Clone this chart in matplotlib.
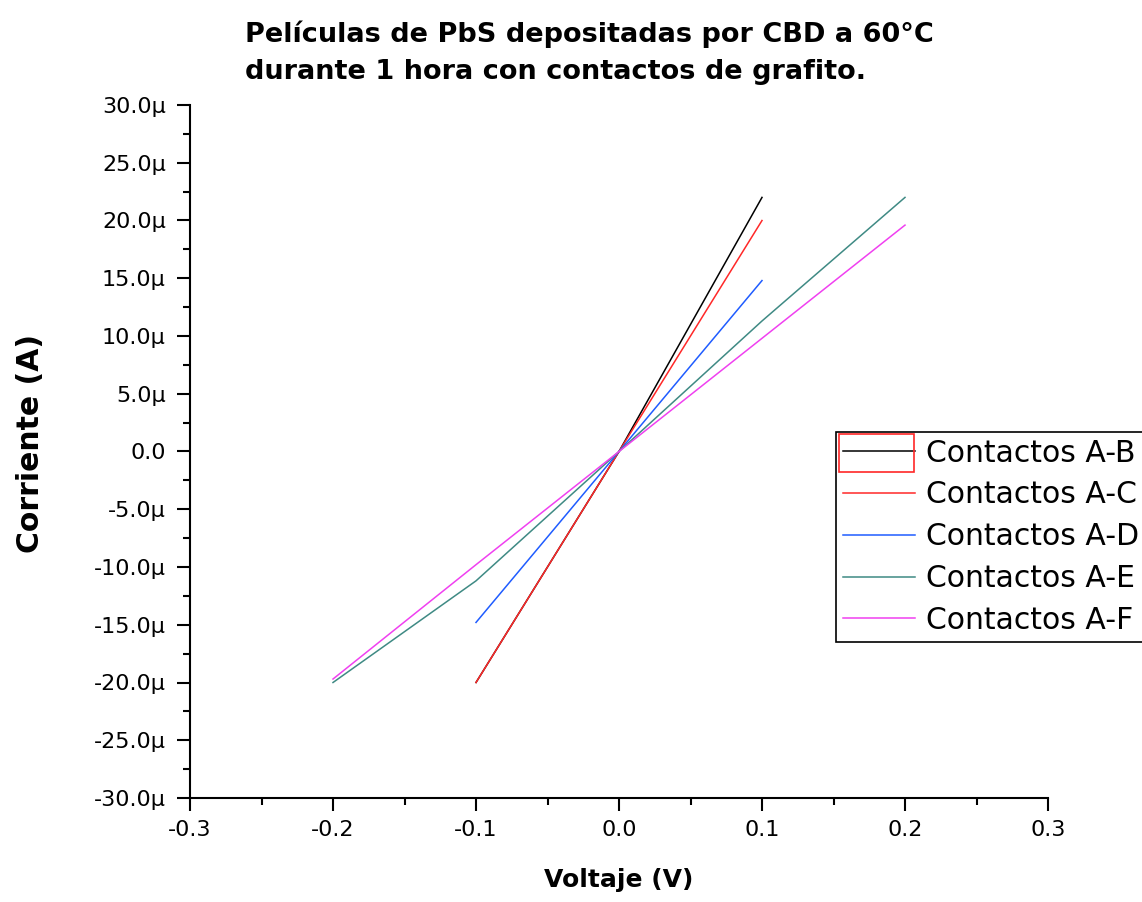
import matplotlib
matplotlib.use("Agg")
import matplotlib.pyplot as plt
from matplotlib.ticker import MultipleLocator, FuncFormatter
from matplotlib.patches import Rectangle

plt.rcParams['font.family'] = ['DejaVu Sans']

# Data (current in microamps)
V_AB = [-0.1, -0.05, 0.0, 0.05, 0.1]
I_AB = [-20.0, -10.0, 0.0, 11.0, 22.0]
V_AC = [-0.1, -0.05, 0.0, 0.05, 0.1]
I_AC = [-20.0, -10.0, 0.0, 10.0, 20.0]
V_AD = [-0.1, -0.05, 0.0, 0.05, 0.1]
I_AD = [-14.8, -7.4, 0.0, 7.4, 14.8]
V_AE = [-0.2, -0.1, 0.0, 0.1, 0.2]
I_AE = [-20.0, -11.2, 0.0, 11.3, 22.0]
V_AF = [-0.2, -0.1, 0.0, 0.1, 0.2]
I_AF = [-19.7, -9.8, 0.0, 9.8, 19.6]

labels = ["Contactos A-B", "Contactos A-C", "Contactos A-D", "Contactos A-E", "Contactos A-F"]
colors = ["#000000", "#ff2828", "#1f5cff", "#3f8a84", "#f040f0"]

W, H = 1142, 902
fig = plt.figure(figsize=(W / 100, H / 100), dpi=100)
ax = fig.add_axes([190 / W, 1 - 798 / H, (1048 - 190) / W, (798 - 105) / H])

series = [(V_AB, I_AB), (V_AC, I_AC), (V_AD, I_AD), (V_AE, I_AE), (V_AF, I_AF)]
for (v, i), lab, c in zip(series, labels, colors):
    ax.plot(v, [x * 1e-6 for x in i], color=c, lw=1.1, label=lab)

ax.set_xlim(-0.3, 0.3)
ax.set_ylim(-30e-6, 30e-6)
ax.xaxis.set_major_locator(MultipleLocator(0.1))
ax.xaxis.set_minor_locator(MultipleLocator(0.05))
ax.yaxis.set_major_locator(MultipleLocator(5e-6))
ax.yaxis.set_minor_locator(MultipleLocator(2.5e-6))


def yfmt(v, pos):
    m = v * 1e6
    if abs(m) < 1e-6:
        return "0.0"
    return f"{m:.1f}\u00b5"


def xfmt(v, pos):
    if abs(v) < 1e-9:
        return "0.0"
    return f"{v:.1f}"


ax.yaxis.set_major_formatter(FuncFormatter(yfmt))
ax.xaxis.set_major_formatter(FuncFormatter(xfmt))

for s in ['top', 'right']:
    ax.spines[s].set_visible(False)
for s in ['left', 'bottom']:
    ax.spines[s].set_linewidth(1.5)

ax.tick_params(which='major', direction='out', length=9.5, width=1.5, labelsize=16)
ax.tick_params(axis='y', which='major', pad=8)
ax.tick_params(axis='x', which='major', pad=6)
ax.tick_params(which='minor', direction='out', length=5, width=1.5)

ax.set_xlabel("Voltaje (V)", fontsize=18, fontweight='bold')
ax.xaxis.set_label_coords(0.5, (798 - 880) / 693, transform=ax.transAxes)
ax.xaxis.label.set_verticalalignment('center')
ax.set_ylabel("Corriente (A)", fontsize=21.5, fontweight='bold')
ax.yaxis.set_label_coords((31 - 190) / 858, (798 - 443) / 693)
ax.yaxis.label.set_verticalalignment('center')

fig.text(245 / W, 1 - 42 / H, "Películas de PbS depositadas por CBD a 60°C",
         fontsize=19.5, fontweight='bold', ha='left', va='baseline')
fig.text(245 / W, 1 - 79 / H, "durante 1 hora con contactos de grafito.",
         fontsize=19.5, fontweight='bold', ha='left', va='baseline')

leg = ax.legend(loc='upper left', bbox_to_anchor=(836 / W, 1 - 432 / H), bbox_transform=fig.transFigure,
                fontsize=21.5, frameon=True, fancybox=False, edgecolor='black', framealpha=1,
                handlelength=2.44, handletextpad=0.37, labelspacing=0.43, borderpad=0.22, borderaxespad=0)
leg.get_frame().set_linewidth(1.2)

fig.patches.append(Rectangle((839 / W, 1 - 472 / H), 75 / W, 38 / H, transform=fig.transFigure,
                             fill=False, edgecolor='#ff2828', lw=1.2, zorder=10))

fig.savefig("out.png", dpi=100)
